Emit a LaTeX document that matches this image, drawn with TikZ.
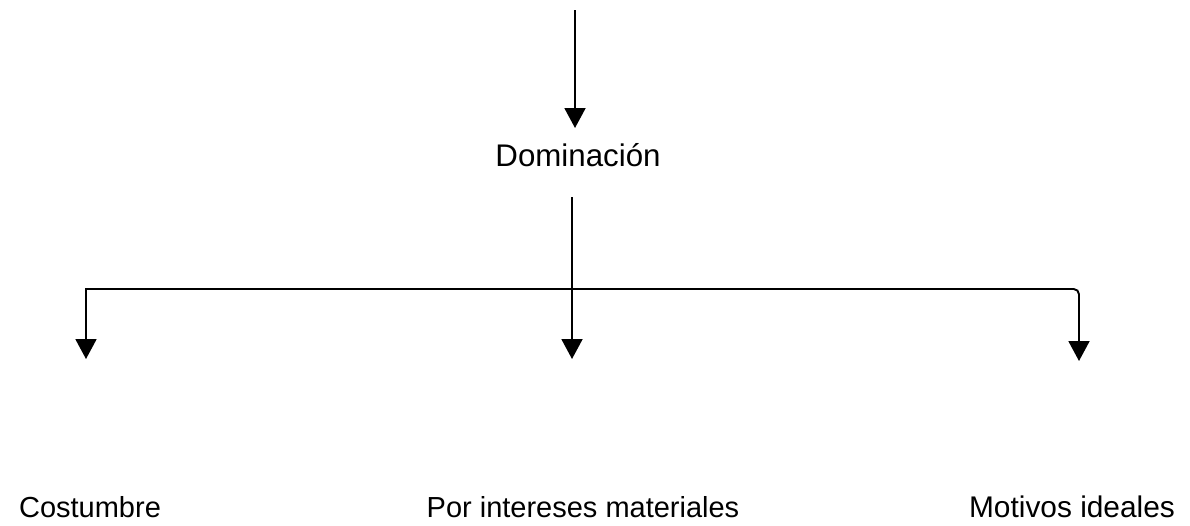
\documentclass[tikz,border=0pt]{standalone}
\usepackage{fontspec}
\setmainfont{Liberation Sans}
\usetikzlibrary{arrows.meta}
\tikzset{
	linea/.style={line width=1.1pt},
	flecha/.style={line width=1.1pt,-{Triangle[width=0.42cm,length=0.4cm]}},
	texto/.style={inner sep=0pt,anchor=base,font=\fontsize{16.5}{20}\selectfont}
}

\begin{document}
\begin{tikzpicture}[x=0.02cm,y=-0.02cm]
			%%%%% START %%%%%
			\useasboundingbox (0,0) rectangle (1190,525);
			
			\node[texto,font=\fontsize{17.8}{21}\selectfont] (dom) at (578,166) {Dominación};
			\coordinate (arriba) at (575,10);
			\coordinate (domin) at (575,128);
			\draw[flecha] (arriba) -- (domin);
			
			\coordinate (domout) at (572,197);
			\coordinate (cruce) at (572,289);
			
			\coordinate (pcost) at (86,359);
			\coordinate (pint) at (572,359);
			\coordinate (pmot) at (1079,361);
			
			\draw[flecha] (domout) -- (pint);
			\draw[flecha] (cruce) -| (pcost);
			\draw[flecha,rounded corners=3] (cruce) -| (pmot);
			
			\node[texto] (cost) at (90,517) {Costumbre};
			\node[texto] (int) at (583,517) {Por intereses materiales};
			\node[texto,font=\fontsize{17}{20}\selectfont] (mot) at (1072,517) {Motivos ideales};
			%%%%% END %%%%%
\end{tikzpicture}
\end{document}
